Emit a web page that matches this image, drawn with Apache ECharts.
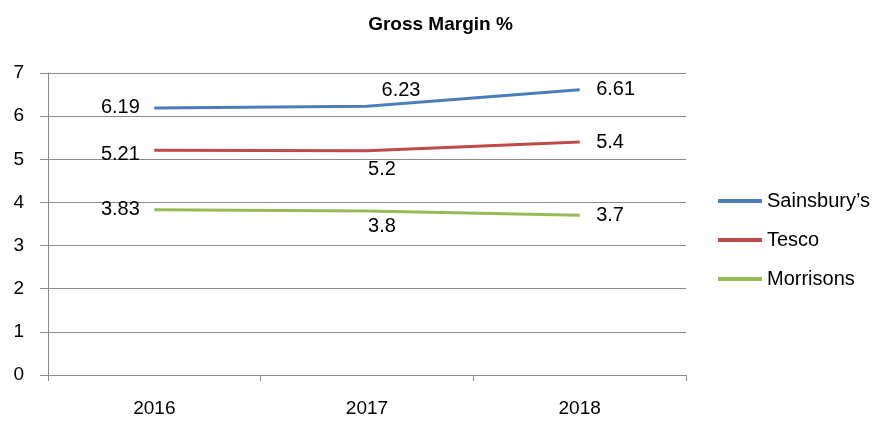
<!DOCTYPE html>
<html>
<head>
<meta charset="utf-8">
<script src="https://cdn.jsdelivr.net/npm/echarts@6/dist/echarts.min.js"></script>
<style>
  html, body { margin: 0; padding: 0; background: #fff; }
  #chart { width: 881px; height: 421px; }
</style>
</head>
<body>
<div id="chart"></div>
<script>
const years = ['2016', '2017', '2018']
const sainsburys = [6.19, 6.23, 6.61]
const tesco = [5.21, 5.2, 5.4]
const morrisons = [3.83, 3.8, 3.7]

const font = 'Liberation Sans, Arial, sans-serif'
const gridGray = '#8a8a8a'

// label placement per point, like the Excel original
function labels(list) {
  return list.map(l => ({
    show: true,
    position: l[0],
    distance: l[1],
    offset: l[2] || [0, 0],
    fontFamily: font,
    fontSize: 20,
    color: '#000'
  }))
}

function makeSeries(name, values, color, labelCfg) {
  const lab = labels(labelCfg)
  return {
    name: name,
    type: 'line',
    data: values.map((v, i) => ({ value: v, label: lab[i] })),
    symbol: 'circle',
    symbolSize: 1,
    showSymbol: true,
    label: { show: true, fontFamily: font, fontSize: 20, color: '#000' },
    lineStyle: { color: color, width: 3 },
    itemStyle: { color: color },
    z: 3
  }
}

const chart = echarts.init(document.getElementById('chart'))
chart.setOption({
  animation: false,
  backgroundColor: '#fff',
  title: {
    text: 'Gross Margin %',
    left: 'center',
    top: 10,
    textStyle: { fontFamily: font, fontSize: 19, fontWeight: 'bold', color: '#000' }
  },
  legend: {
    orient: 'vertical',
    left: 713,
    top: 186,
    icon: 'rect',
    itemWidth: 44,
    itemHeight: 4,
    itemGap: 19,
    textStyle: { fontFamily: font, fontSize: 20, color: '#000' },
    data: ["Sainsbury’s", 'Tesco', 'Morrisons']
  },
  grid: { left: 48, right: 195, top: 73, bottom: 46 },
  xAxis: {
    type: 'category',
    data: years,
    boundaryGap: true,
    axisLine: { lineStyle: { color: gridGray } },
    axisTick: { show: true, length: 6, lineStyle: { color: gridGray } },
    axisLabel: { margin: 24, fontFamily: font, fontSize: 19, color: '#000' },
    splitLine: { show: false }
  },
  yAxis: {
    type: 'value',
    min: 0,
    max: 7,
    interval: 1,
    axisLine: { show: true, lineStyle: { color: gridGray } },
    axisTick: { show: true, length: 8, lineStyle: { color: gridGray } },
    axisLabel: { margin: 24, fontFamily: font, fontSize: 19, color: '#000' },
    splitLine: { lineStyle: { color: gridGray, width: 1 } }
  },
  series: [
    makeSeries("Sainsbury’s", sainsburys, '#4a7ebb',
      [['left', 14], ['top', 5, [34, 0]], ['right', 16]]),
    makeSeries('Tesco', tesco, '#be4b48',
      [['left', 14, [0, 4]], ['bottom', 8, [15, 0]], ['right', 16]]),
    makeSeries('Morrisons', morrisons, '#98b954',
      [['left', 14], ['bottom', 5, [15, 0]], ['right', 16]])
  ]
})
</script>
</body>
</html>
